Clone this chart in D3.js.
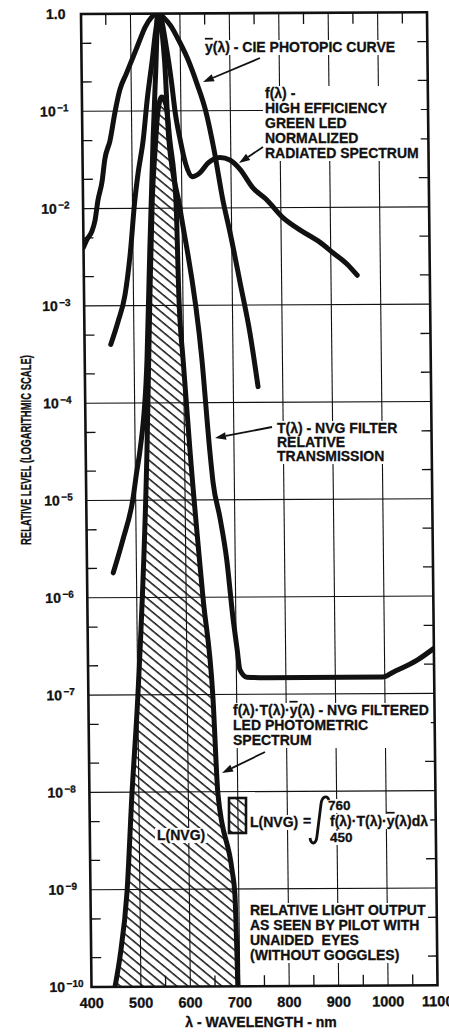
<!DOCTYPE html>
<html>
<head>
<meta charset="utf-8">
<script src="https://cdn.jsdelivr.net/npm/d3@7"></script>
<style>
body { margin: 0; background: #fff; }
svg { display: block; }
text { font-family: "Liberation Sans", Arial, Helvetica, sans-serif; font-weight: bold; fill: #111; stroke: #111; stroke-width: 0.3px; white-space: pre; }
</style>
</head>
<body>
<div id="chart"></div>
<script>
var W = 449, H = 1034;

// axes
var xTicks = [400, 500, 600, 700, 800, 900, 1000, 1100];
var xHalfTicks = [450, 550, 650, 750, 850, 950, 1050];
var yDecades = [0, -1, -2, -3, -4, -5, -6, -7, -8, -9, -10];

// ybar(lambda) - CIE photopic curve (as drawn)
var lamY = [400, 407, 417, 424, 430, 439, 445, 456, 467, 477, 490, 504, 516, 529, 542, 555, 568, 581, 594, 615, 633, 650, 666, 683, 697, 716, 735, 750];
var valY = [4.0e-3, 4.8e-3, 5.8e-3, 7.6e-3, 1.2e-2, 1.9e-2, 3.2e-2, 5.0e-2, 0.10, 0.166, 0.24, 0.355, 0.50, 0.72, 0.91, 1.0, 0.90, 0.75, 0.57, 0.34, 0.19, 0.10, 0.040, 0.012, 5.5e-3, 1.7e-3, 5.1e-4, 1.45e-4];

// f(lambda) - green LED radiated spectrum
var lamF = [453, 468, 483, 494, 505, 512, 523, 532, 543, 551, 558, 572, 582, 588, 598, 608, 621, 637, 654, 678, 698, 718, 744, 772, 804, 838, 878, 905, 933, 953];
var valF = [4.0e-4, 6.8e-4, 1.3e-3, 3.3e-3, 1.23e-2, 2.3e-2, 5.0e-2, 0.13, 0.33, 0.68, 1.0, 0.45, 0.19, 0.10, 0.05, 0.029, 0.021, 0.023, 0.029, 0.033, 0.031, 0.025, 0.016, 0.012, 7.9e-3, 5.9e-3, 4.4e-3, 3.4e-3, 2.6e-3, 2.0e-3];

// T(lambda) - NVG filter relative transmission
var lamT = [453, 473, 494, 503, 510, 526, 534, 543, 550, 556, 568, 575, 596, 637, 651, 657, 670, 683, 694, 702, 707, 721, 762, 996, 1017, 1066, 1100];
var valT = [1.8e-6, 3.9e-6, 1.0e-5, 2.0e-5, 3.3e-5, 2.8e-4, 3.7e-3, 0.05, 0.26, 1.0, 0.33, 0.05, 0.010, 2.8e-4, 3.2e-5, 1.5e-5, 6.6e-6, 2.4e-6, 6.3e-7, 2.9e-7, 1.8e-7, 1.5e-7, 1.48e-7, 1.48e-7, 1.66e-7, 2.2e-7, 2.9e-7];

// f*T*ybar - filtered photometric spectrum (hatched)
var lamP = [447.5, 458, 474, 486, 500, 524, 533, 540, 547, 553.6, 561.6, 570, 577, 588, 592, 599, 611, 634, 652, 660, 687, 692, 696];
var valP = [1e-10, 2.0e-10, 9.5e-10, 9.5e-9, 9.5e-8, 3.3e-5, 1.15e-3, 1.2e-2, 4.0e-2, 0.10, 0.139, 0.115, 0.05, 0.012, 1.15e-3, 2.75e-4, 3.2e-5, 1.0e-6, 9.3e-8, 9.5e-9, 1.55e-9, 9.1e-10, 1e-10];

var pw = 346, ph = 973;
// the scanned plot is slightly tilted
var M = 'matrix(1,-0.005,0.0108,1,81,14)';

var x = d3.scaleLinear().domain([400, 1100]).range([0, pw]);
var y = d3.scaleLog().domain([1e-10, 1]).range([ph, 0]);

var svg = d3.select('#chart').append('svg')
	.attr('width', W)
	.attr('height', H);

var defs = svg.append('defs');
defs.append('clipPath').attr('id', 'plotclip')
	.append('rect').attr('width', pw).attr('height', ph);

var hatch = defs.append('pattern')
	.attr('id', 'hatch')
	.attr('patternUnits', 'userSpaceOnUse')
	.attr('width', 7.2).attr('height', 7.2)
	.attr('patternTransform', 'rotate(-50)');
hatch.append('line')
	.attr('x1', 1).attr('y1', 0).attr('x2', 1).attr('y2', 7.2)
	.attr('stroke', '#111').attr('stroke-width', 1.5);

var gGrid = svg.append('g').attr('transform', M),
	gMask = svg.append('g'),
	gFrame = svg.append('g').attr('transform', M),
	gCurves = svg.append('g').attr('transform', M),
	gText = svg.append('g');

// grid
gGrid.selectAll('line.h')
	.data(yDecades.slice(1, -1))
	.enter().append('line')
	.attr('x1', 0).attr('x2', pw)
	.attr('y1', d => y(Math.pow(10, d))).attr('y2', d => y(Math.pow(10, d)))
	.attr('stroke', '#111').attr('stroke-width', 1.1);

gGrid.selectAll('line.v')
	.data(xTicks.slice(1, -1))
	.enter().append('line')
	.attr('y1', 0).attr('y2', ph)
	.attr('x1', d => x(d)).attr('x2', d => x(d))
	.attr('stroke', '#111').attr('stroke-width', 1.1);

var minor = [];
yDecades.slice(1).forEach(function(e) {
	minor.push(2 * Math.pow(10, e), 5 * Math.pow(10, e));
});
minor.forEach(function(v) {
	gGrid.append('line').attr('x1', 0).attr('x2', 10).attr('y1', y(v)).attr('y2', y(v))
		.attr('stroke', '#111').attr('stroke-width', 1.3);
	gGrid.append('line').attr('x1', pw - 10).attr('x2', pw).attr('y1', y(v)).attr('y2', y(v))
		.attr('stroke', '#111').attr('stroke-width', 1.3);
});
xHalfTicks.forEach(function(l) {
	gGrid.append('line').attr('x1', x(l)).attr('x2', x(l)).attr('y1', 0).attr('y2', 11)
		.attr('stroke', '#111').attr('stroke-width', 1.3);
	gGrid.append('line').attr('x1', x(l)).attr('x2', x(l)).attr('y1', ph - 11).attr('y2', ph)
		.attr('stroke', '#111').attr('stroke-width', 1.3);
});

gFrame.append('rect')
	.attr('width', pw).attr('height', ph)
	.attr('fill', 'none').attr('stroke', '#111').attr('stroke-width', 2.6);

// tick labels
gFrame.selectAll('text.xl')
	.data(xTicks)
	.enter().append('text')
	.attr('x', d => x(d)).attr('y', ph + 21)
	.attr('text-anchor', 'middle')
	.style('font-size', '14.5px')
	.text(d => d);

yDecades.forEach(function(e) {
	var t = gFrame.append('text')
		.attr('y', y(Math.pow(10, e)))
		.attr('dy', '0.35em')
		.style('font-size', '14px');
	if (e === 0) {
		t.attr('x', -35).text('1.0');
	} else {
		t.attr('x', -42);
		t.append('tspan').text('10');
		t.append('tspan').attr('dy', -5).attr('dx', 1.5).style('font-size', '10px').text('\u2212' + (-e));
	}
});

// curves
var line = d3.line()
	.x(d => x(d[0]))
	.y(d => y(d[1]))
	.curve(d3.curveMonotoneX);

var area = d3.area()
	.x(d => x(d[0]))
	.y0(ph)
	.y1(d => y(d[1]))
	.curve(d3.curveMonotoneX);

var clipped = gCurves.append('g').attr('clip-path', 'url(#plotclip)');

clipped.append('path')
	.datum(d3.zip(lamP, valP))
	.attr('d', area)
	.attr('fill', 'url(#hatch)');

[[lamY, valY], [lamF, valF], [lamT, valT], [lamP, valP]].forEach(function(s) {
	clipped.append('path')
		.datum(d3.zip(s[0], s[1]))
		.attr('d', line)
		.attr('fill', 'none')
		.attr('stroke', '#111')
		.attr('stroke-width', 5)
		.attr('stroke-linecap', 'round')
		.attr('stroke-linejoin', 'round');
});

// annotations
function addLine(t, str) {
	str.split('\u0233').forEach(function(part, i) {
		if (i > 0) t.append('tspan').style('text-decoration', 'overline').text('y');
		if (part) t.append('tspan').text(part);
	});
}

function block(xp, y0, lh, lines, size, maskOnTop) {
	var t = gText.append('text').style('font-size', size + 'px');
	lines.forEach(function(s, i) {
		var ts = t.append('tspan').attr('x', xp).attr('y', y0 + i * lh);
		addLine(ts, s);
	});
	var b = t.node().getBBox();
	var layer = maskOnTop ? gText : gMask;
	var r = maskOnTop ? layer.insert('rect', function() { return t.node(); }) : layer.append('rect');
	r.attr('x', b.x - 2).attr('y', b.y + 1).attr('width', b.width + 4).attr('height', b.height - 1)
		.attr('fill', '#fff');
	return t;
}

function arrow(x1, y1, x2, y2) {
	var dx = x2 - x1, dy = y2 - y1, len = Math.sqrt(dx * dx + dy * dy);
	var ux = dx / len, uy = dy / len, hl = 11, hw = 3.8;
	var bx = x2 - ux * hl, by = y2 - uy * hl;
	gText.append('line')
		.attr('x1', x1).attr('y1', y1).attr('x2', bx).attr('y2', by)
		.attr('stroke', '#111').attr('stroke-width', 1.8);
	gText.append('path')
		.attr('d', 'M' + x2 + ',' + y2 + 'L' + (bx - uy * hw) + ',' + (by + ux * hw) + 'L' + (bx + uy * hw) + ',' + (by - ux * hw) + 'Z')
		.attr('fill', '#111');
}

block(205, 52, 15, ['\u0233(\u03bb) - CIE PHOTOPIC CURVE'], 14);
block(265, 98, 15, ['f(\u03bb) -', 'HIGH EFFICIENCY', 'GREEN LED', 'NORMALIZED', 'RADIATED SPECTRUM'], 14);
block(277, 433, 14, ['T(\u03bb) - NVG FILTER', 'RELATIVE', 'TRANSMISSION'], 14);
block(233, 715, 15, ['f(\u03bb)\u00b7T(\u03bb)\u00b7\u0233(\u03bb) - NVG FILTERED', 'LED PHOTOMETRIC', 'SPECTRUM'], 14);
block(250, 915, 15, ['RELATIVE LIGHT OUTPUT', 'AS SEEN BY PILOT WITH', 'UNAIDED  EYES', '(WITHOUT GOGGLES)'], 14);
block(157, 840, 15, ['L(NVG)'], 14, true);

// L(NVG) definition
block(250, 827, 15, ['L(NVG)'], 14);
block(303, 826, 15, ['='], 14);
block(328, 810, 15, ['760'], 13.5);
block(330, 826, 15, ['f(\u03bb)\u00b7T(\u03bb)\u00b7\u0233(\u03bb)d\u03bb'], 14);
block(330, 842, 15, ['450'], 13.5);
gText.append('path')
	.attr('d', 'M310,838 C311,845 316,845 317,836 L321,804 C322,796 327,795 329,800')
	.attr('fill', 'none').attr('stroke', '#111').attr('stroke-width', 2.8);

gText.append('rect')
	.attr('x', 229).attr('y', 798).attr('width', 17).attr('height', 35)
	.attr('fill', 'url(#hatch)')
	.attr('stroke', '#111').attr('stroke-width', 2.6);

arrow(260, 58, 203, 82);
arrow(263, 147, 239, 163);
arrow(272, 427, 215, 438);
arrow(265, 752, 222, 773);

// axis titles
gText.append('text')
	.attr('x', 261).attr('y', 1027)
	.attr('text-anchor', 'middle')
	.style('font-size', '14px')
	.text('\u03bb - WAVELENGTH - nm');

gText.append('text')
	.attr('transform', 'translate(31,450) rotate(-90)')
	.attr('text-anchor', 'middle')
	.attr('textLength', 190)
	.attr('lengthAdjust', 'spacingAndGlyphs')
	.style('font-size', '14px')
	.text('RELATIVE LEVEL (LOGARITHMIC SCALE)');
</script>
</body>
</html>
